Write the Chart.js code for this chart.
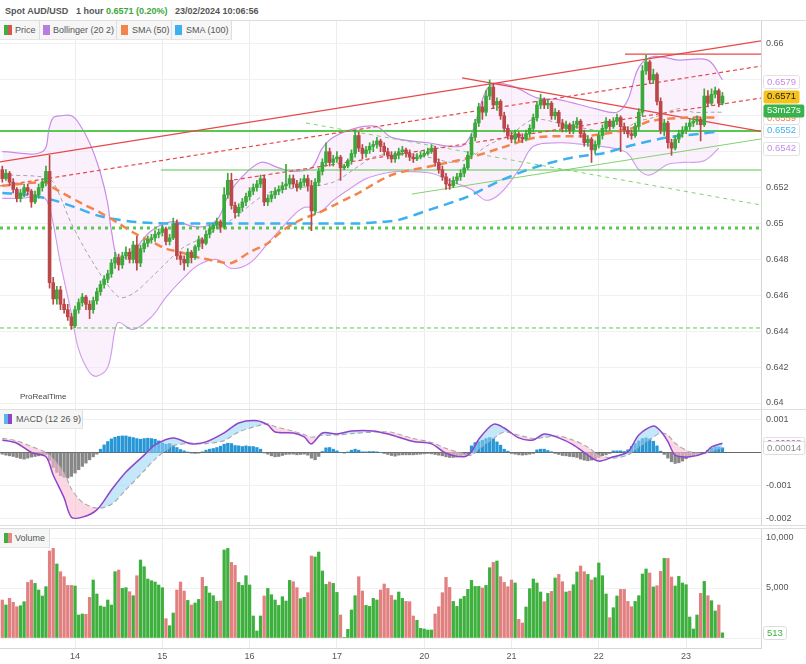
<!DOCTYPE html>
<html>
<head>
<meta charset="utf-8">
<title>Spot AUD/USD 1 hour</title>
<script src="https://cdn.jsdelivr.net/npm/chart.js@4.4.1/dist/chart.umd.min.js"></script>
<style>
  body { margin: 0; background: #fff; font-family: "Liberation Sans", Arial, sans-serif; }
  #page { position: relative; width: 806px; height: 664px; overflow: hidden; }
  .panel { position: absolute; left: 0; width: 806px; }
  .hd { position: absolute; top: 6px; font-size: 9px; font-weight: bold; color: #555; white-space: nowrap; }
  .lg { position: absolute; height: 19px; background: #f6f6f6; border-right: 1px solid #dedede; border-bottom: 1px solid #e6e6e6;
        box-sizing: border-box; font-size: 9px; color: #555; line-height: 19px; z-index: 5; white-space: nowrap; }
  .ic { position: absolute; top: 4px; width: 4px; height: 10px; }
  .sep { position: absolute; left: 0; width: 806px; height: 1px; background: #dedede; z-index: 4; }
</style>
</head>
<body>
<div id="page">
  <div class="hd" style="left:5px">Spot AUD/USD</div>
  <div class="hd" style="left:76px">1 hour</div>
  <div class="hd" style="left:106px;color:#3aa83a">0.6571 (0.20%)</div>
  <div class="hd" style="left:175px">23/02/2024 10:06:56</div>
  <div class="sep" style="top:20px"></div>

  <div class="lg" style="left:0;top:21px;width:40px;padding-left:15px"><span class="ic" style="left:4px;background:#3fae3f"></span><span class="ic" style="left:8px;background:#d9534f"></span>Price</div>
  <div class="lg" style="left:40px;top:21px;width:77px;padding-left:13px"><span class="ic" style="left:3px;width:7px;background:#b77ee0"></span>Bollinger (20 2)</div>
  <div class="lg" style="left:117px;top:21px;width:55px;padding-left:15px"><span class="ic" style="left:4px;width:7px;background:#f5844a"></span>SMA (50)</div>
  <div class="lg" style="left:172px;top:21px;width:60px;padding-left:14px"><span class="ic" style="left:3px;width:7px;background:#3db0ef"></span>SMA (100)</div>

  <div class="panel" style="top:21px;height:388px"><canvas id="priceChart"></canvas></div>
  <div class="hd" style="left:20px;top:392px;font-weight:normal;font-size:8px;color:#444;z-index:5">ProRealTime</div>
  <div class="sep" style="top:409px"></div>

  <div class="lg" style="left:0;top:410px;width:83px;padding-left:16px"><span class="ic" style="left:4px;background:#56b7e8"></span><span class="ic" style="left:8px;background:#8e44c9"></span>MACD (12 26 9)</div>
  <div class="panel" style="top:410px;height:115px"><canvas id="macdChart"></canvas></div>
  <div class="sep" style="top:525px"></div>

  <div class="lg" style="left:0;top:529px;width:50px;padding-left:15px"><span class="ic" style="left:4px;background:#3fae3f"></span><span class="ic" style="left:8px;background:#e58a8a"></span>Volume</div>
  <div class="sep" style="top:528px"></div>
  <div class="panel" style="top:528px;height:136px"><canvas id="volumeChart"></canvas></div>
</div>

<script>
// ---- data (prices in 1/10000, MACD in 1/100000) ----
const PIP = 10000;
const MACD_UNIT = 100000;

const dayTicks = [20, 44, 68, 92, 116, 140, 164, 188];
const dayLabels = ['14', '15', '16', '17', '20', '21', '22', '23'];

const openP = [
  6530,6525,6528,6523,6519,6514,6517,6520,6518,6512,
  6516,6520,6523,6529,6467,6458,6463,6455,6452,6448,
  6443,6452,6456,6459,6455,6452,6457,6462,6466,6469,
  6472,6478,6481,6477,6482,6484,6480,6488,6478,6486,
  6489,6491,6492,6494,6495,6497,6490,6492,6500,6482,
  6480,6478,6484,6481,6487,6491,6489,6494,6497,6499,
  6501,6498,6516,6524,6510,6506,6509,6512,6515,6518,
  6520,6522,6525,6512,6514,6516,6518,6519,6521,6522,
  6525,6522,6520,6523,6525,6521,6507,6523,6529,6534,
  6540,6534,6536,6537,6531,6532,6535,6539,6549,6542,
  6539,6541,6543,6544,6546,6543,6540,6538,6536,6538,
  6540,6541,6539,6537,6536,6537,6538,6539,6540,6542,
  6534,6530,6526,6522,6521,6524,6526,6528,6531,6538,
  6548,6556,6565,6562,6571,6576,6566,6568,6560,6553,
  6549,6547,6550,6548,6547,6550,6553,6559,6566,6569,
  6566,6567,6560,6562,6556,6553,6555,6552,6555,6557,
  6550,6545,6547,6541,6544,6549,6553,6557,6554,6557,
  6559,6554,6552,6550,6549,6554,6562,6585,6590,6580,
  6583,6568,6552,6556,6545,6542,6547,6550,6552,6554,
  6556,6557,6558,6555,6571,6567,6572,6574,6567
];
const highP = [
  6532,6530,6529,6525,6520,6519,6522,6522,6519,6518,
  6522,6525,6532,6538,6470,6465,6465,6458,6455,6450,
  6454,6458,6461,6460,6457,6459,6464,6468,6471,6474,
  6480,6484,6483,6484,6487,6486,6490,6493,6488,6491,
  6493,6494,6496,6497,6499,6498,6494,6503,6502,6484,
  6482,6486,6485,6488,6493,6492,6496,6499,6500,6503,
  6502,6520,6528,6528,6512,6511,6514,6517,6520,6522,
  6524,6527,6527,6516,6518,6520,6521,6523,6533,6527,
  6527,6524,6525,6527,6527,6524,6525,6531,6536,6545,
  6542,6538,6540,6538,6533,6536,6541,6552,6551,6544,
  6543,6545,6546,6548,6547,6545,6542,6540,6540,6542,
  6543,6542,6541,6539,6539,6540,6541,6542,6544,6543,
  6536,6532,6528,6525,6526,6528,6530,6533,6540,6550,
  6558,6567,6568,6574,6580,6578,6570,6569,6562,6555,
  6551,6552,6551,6550,6552,6555,6561,6568,6572,6570,
  6569,6568,6564,6563,6558,6557,6556,6557,6559,6558,
  6552,6549,6548,6546,6551,6555,6559,6558,6559,6561,
  6560,6556,6554,6552,6556,6564,6588,6594,6591,6586,
  6584,6570,6558,6557,6547,6549,6552,6554,6556,6558,
  6559,6560,6559,6575,6574,6575,6576,6575,6573
];
const lowP = [
  6523,6524,6521,6517,6512,6512,6515,6516,6509,6511,
  6514,6518,6521,6464,6455,6455,6452,6450,6446,6441,
  6442,6450,6454,6452,6447,6450,6455,6460,6464,6467,
  6470,6475,6474,6475,6480,6478,6478,6474,6476,6484,
  6487,6489,6490,6492,6493,6488,6488,6491,6480,6477,
  6474,6476,6478,6480,6485,6486,6488,6492,6495,6497,
  6495,6497,6514,6508,6503,6504,6507,6510,6513,6516,
  6518,6520,6510,6510,6512,6514,6516,6517,6519,6520,
  6520,6518,6519,6521,6518,6496,6505,6521,6527,6532,
  6532,6532,6534,6524,6530,6531,6533,6537,6540,6536,
  6537,6539,6540,6542,6540,6538,6536,6534,6534,6536,
  6538,6537,6535,6534,6535,6536,6537,6538,6539,6532,
  6528,6524,6519,6519,6520,6522,6524,6526,6530,6536,
  6546,6554,6558,6560,6569,6564,6563,6558,6551,6547,
  6545,6545,6546,6545,6546,6548,6551,6557,6564,6564,
  6564,6558,6558,6554,6551,6551,6550,6550,6553,6548,
  6543,6543,6534,6539,6542,6547,6551,6552,6553,6555,
  6540,6550,6548,6547,6548,6552,6560,6583,6578,6578,
  6566,6550,6549,6542,6538,6541,6545,6548,6550,6552,
  6554,6555,6546,6554,6565,6566,6570,6565,6566
];
const closeP = [
  6525,6528,6523,6519,6514,6517,6520,6518,6512,6516,
  6520,6523,6529,6467,6458,6463,6455,6452,6448,6443,
  6452,6456,6459,6455,6452,6457,6462,6466,6469,6472,
  6478,6481,6477,6482,6484,6480,6488,6478,6486,6489,
  6491,6492,6494,6495,6497,6490,6492,6500,6482,6480,
  6478,6484,6481,6487,6491,6489,6494,6497,6499,6501,
  6498,6516,6524,6510,6506,6509,6512,6515,6518,6520,
  6522,6525,6512,6514,6516,6518,6519,6521,6522,6525,
  6522,6520,6523,6525,6521,6507,6523,6529,6534,6540,
  6534,6536,6537,6531,6532,6535,6539,6549,6542,6539,
  6541,6543,6544,6546,6543,6540,6538,6536,6538,6540,
  6541,6539,6537,6536,6537,6538,6539,6540,6542,6534,
  6530,6526,6522,6521,6524,6526,6528,6531,6538,6548,
  6556,6565,6562,6571,6576,6566,6568,6560,6553,6549,
  6547,6550,6548,6547,6550,6553,6559,6566,6569,6566,
  6567,6560,6562,6556,6553,6555,6552,6555,6557,6550,
  6545,6547,6541,6544,6549,6553,6557,6554,6557,6559,
  6554,6552,6550,6549,6554,6562,6585,6590,6580,6583,
  6568,6552,6556,6545,6542,6547,6550,6552,6554,6556,
  6557,6558,6555,6571,6567,6572,6574,6567,6571
];

const volume = [
  3800,3300,3970,3570,3130,3230,3630,5560,5800,5460,
  4800,4200,5130,8700,8960,7400,6630,6130,5260,5260,
  5200,2300,2400,2370,4060,5800,4400,3200,3100,3800,
  3300,6630,6800,4960,5030,4630,4230,6230,7800,7130,
  5900,5730,5600,5300,5030,1930,1230,2500,4800,5600,
  4700,3760,3300,3500,3860,6060,5160,4500,4230,3660,
  3700,8800,8960,7560,7260,5560,5260,6230,5300,2200,
  700,2200,4200,4960,4330,3800,3260,4130,3700,5760,
  5630,5030,3930,4060,4530,8200,8100,8600,6700,5360,
  5600,5460,4560,2300,60,870,2800,4230,6130,4700,
  3260,3160,3960,3800,4800,5400,4960,4260,3800,4600,
  3960,3660,3630,2200,1770,970,900,800,800,2400,
  3130,4530,6060,5060,3660,3160,3900,4160,4860,5760,
  5160,5160,5000,5260,7030,7560,7700,6130,5560,5130,
  5800,5500,1870,1500,3100,4930,5900,5500,4600,3630,
  4460,4660,6000,6360,5630,4600,4700,5330,6600,7200,
  6630,6360,5800,6030,7500,6230,4400,2030,3030,4200,
  4860,4860,3660,3130,3660,4230,6400,6900,6500,5100,
  5230,6660,7960,7960,6100,5200,6160,5500,5330,2100,
  900,2300,4460,5660,4230,3730,2700,3300,513
];

const macdHist = [
  -5,-8,-10,-12,-15,-18,-20,-17,-14,-12,
  -10,-8,-6,-25,-45,-60,-70,-75,-77,-72,
  -62,-52,-42,-32,-22,-13,-5,10,23,33,
  41,46,49,50,50,47,45,42,40,42,
  43,42,40,35,29,25,27,22,15,9,
  5,1,-2,-3,-2,2,7,10,12,15,
  19,25,28,27,21,20,18,20,18,18,
  15,10,-1,-5,-10,-13,-12,-9,-6,-5,
  -5,-7,-6,-5,-8,-17,-22,-12,3,14,
  15,10,5,0,-2,1,7,10,7,2,
  2,3,3,2,0,-3,-6,-9,-11,-8,
  -7,-7,-7,-7,-6,-5,-4,-3,-4,-6,
  -8,-10,-13,-15,-15,-14,-12,-8,-4,20,
  30,33,37,42,45,42,32,22,10,4,
  -3,-5,-7,-8,-7,-5,-3,8,10,10,
  6,2,-3,-6,-9,-10,-12,-13,-15,-20,
  -23,-25,-23,-19,-15,-10,-7,-3,5,5,
  5,3,8,18,27,35,42,44,41,34,
  20,4,-6,-17,-28,-33,-31,-26,-19,-13,
  -10,-7,-5,-2,6,13,17,17,14
];
const macdLine = [[0,38],[4,28],[8,0],[12,-13],[14,-68],[17,-137],[19,-195],[22,-195],[26,-173],[30,-113],
  [34,-59],[39,-8],[42,23],[47,44],[52,26],[56,32],[61,59],[65,89],[70,96],[73,83],[75,62],[80,59],
  [83,47],[85,26],[88,59],[92,56],[96,65],[102,65],[107,53],[109,46],[113,33],[118,26],[122,-2],
  [127,-13],[129,2],[131,40],[135,85],[138,74],[142,44],[146,38],[149,56],[153,44],[157,23],[161,-8],
  [164,-26],[168,-13],[172,2],[175,53],[179,80],[181,65],[183,33],[185,-8],[189,-13],[193,-2],[195,17],[198,28]];
const macdSignal = [[0,43],[4,35],[8,18],[12,0],[14,-18],[17,-62],[19,-110],[22,-150],[26,-168],[30,-156],
  [34,-112],[39,-55],[42,-20],[47,20],[52,28],[56,27],[61,36],[65,62],[70,80],[73,86],[75,78],[80,64],
  [83,54],[85,46],[88,52],[92,53],[96,57],[102,62],[107,61],[109,55],[113,42],[118,30],[122,12],
  [127,-4],[129,-8],[131,10],[135,42],[138,62],[142,52],[146,42],[149,46],[153,49],[157,37],[161,16],
  [164,-8],[168,-17],[172,-7],[175,17],[179,46],[181,59],[183,52],[185,28],[189,2],[193,-2],[195,4],[198,14]];

// Bollinger (20 2) and moving averages
const bbUpper = [[0,6540],[11,6540],[13,6554],[14,6559],[16,6560],[19,6560],[21,6556],[24,6545],[27,6528],
  [29,6511],[30,6496],[32,6480],[36,6485],[41,6496],[47,6501],[54,6498],[59,6502],[62,6515],[65,6524],
  [71,6534],[76,6531],[80,6529],[85,6531],[88,6542],[91,6548],[97,6553],[103,6554],[107,6548],[117,6545],
  [126,6543],[129,6550],[133,6574],[136,6578],[141,6576],[147,6570],[153,6569],[163,6564],[169,6562],
  [172,6569],[175,6587],[179,6593],[186,6591],[194,6591],[198,6580]];
const bbMiddle = [[0,6527],[11,6526],[14,6523],[19,6500],[25,6478],[32,6459],[36,6461],[41,6470],[46,6480],
  [50,6487],[54,6491],[63,6502],[73,6517],[82,6520],[91,6523],[98,6532],[102,6537],[109,6539],[117,6537],
  [124,6534],[129,6537],[133,6543],[140,6550],[146,6558],[153,6556],[163,6552],[170,6552],[175,6557],
  [179,6559],[186,6564],[190,6562],[195,6562],[198,6562]];
const bbLower = [[0,6514],[5,6514],[11,6515],[13,6509],[16,6478],[19,6450],[21,6430],[24,6417],[26,6415],
  [29,6420],[31,6441],[32,6445],[36,6441],[41,6448],[45,6459],[50,6470],[54,6477],[59,6480],[63,6475],
  [68,6478],[73,6489],[77,6498],[82,6508],[85,6509],[87,6506],[91,6513],[96,6520],[100,6525],[105,6528],
  [109,6529],[118,6528],[124,6523],[129,6519],[133,6513],[137,6517],[142,6530],[146,6543],[153,6545],
  [160,6544],[168,6542],[172,6539],[175,6530],[178,6527],[183,6533],[187,6534],[193,6535],[197,6542]];
const sma50 = [[0,6521],[12,6523],[14,6520],[22,6511],[27,6506],[32,6500],[36,6495],[41,6490],[45,6486],
  [49,6484],[54,6481],[59,6479],[63,6478],[68,6484],[73,6489],[77,6496],[82,6502],[87,6506],[91,6510],
  [96,6515],[98,6517],[107,6527],[118,6532],[129,6537],[137,6542],[147,6548],[162,6549],[173,6553],
  [178,6557],[188,6559],[197,6559]];
const sma100 = [[0,6517],[7,6516],[14,6513],[20,6509],[27,6504],[36,6501],[45,6500],[54,6500],[73,6500],
  [91,6500],[98,6500],[105,6501],[109,6502],[118,6508],[128,6515],[137,6524],[146,6531],[155,6536],
  [161,6538],[165,6539],[174,6544],[183,6548],[192,6550],[196,6551]];

// drawn trend lines: [bar index, price] end points
const redChannelTop = [[-0.63,6534.3],[208.6,6601.7]];
const redDashUpper = [[-0.63,6520.9],[208.6,6587.7]];
const redDashLower = [[61.8,6523.7],[208.6,6569.9]];
const redFalling = [[126.4,6581.1],[208.6,6551.3]];
const redHigh = [[171.2,6594.4],[208.6,6594.4]];
const greenMain = [[-0.63,6551.5],[208.6,6551.5]];
const greenShelf = [[43.6,6529.8],[208.6,6529.8]];
const greenDotted = [[-0.63,6497.5],[208.6,6497.5]];
const greenLow = [[-0.63,6441.8],[208.6,6441.8]];
const greenRising = [[112.6,6516.4],[208.6,6547.1]];
const greenFalling = [[83.5,6556],[208.6,6510.3]];

const priceTags = [0.6579, 0.6571, 0.6559, 0.6552, 0.6542];
const countdown = '53m27s';
const macdTags = [0.00028, 0.00014];
const lastVolume = 513;

// ---- drawing ----
const FONT = '"Liberation Sans", Arial, sans-serif';
Chart.defaults.font.family = FONT;
Chart.defaults.font.size = 9;
Chart.defaults.color = '#555';

const GREEN = 'rgb(58,168,58)';
const RED = 'rgb(186,72,72)';
const X_MIN = -0.63, X_MAX = 208.6;

const pts = (arr, k) => arr.map(([x, v]) => ({ x: x, y: v / k }));
const isUp = closeP.map((c, i) => c >= openP[i]);

function baseOptions(yMin, yMax, yTicks, yFmt, yGrid, showX) {
  return {
    responsive: true,
    maintainAspectRatio: false,
    animation: false,
    layout: { padding: 0 },
    plugins: { legend: { display: false }, tooltip: { enabled: false } },
    scales: {
      x: {
        type: 'linear', min: X_MIN, max: X_MAX, offset: false,
        afterBuildTicks: s => { s.ticks = dayTicks.map(v => ({ value: v })); },
        afterFit: s => { s.height = showX ? 16 : 0; s.paddingLeft = 0; s.paddingRight = 0; },
        ticks: { display: showX, autoSkip: false, maxRotation: 0, padding: 3,
                 callback: v => dayLabels[dayTicks.indexOf(v)] },
        grid: { color: '#ececec', drawTicks: false, offset: false },
        border: { display: showX, color: '#d6d6d6' }
      },
      y: {
        position: 'right', min: yMin, max: yMax,
        afterFit: s => { s.width = 45; s.paddingTop = 0; s.paddingBottom = 0; },
        afterBuildTicks: s => { s.ticks = yTicks.map(v => ({ value: v })); },
        ticks: { padding: 5, callback: yFmt },
        grid: { color: yGrid, drawTicks: false },
        border: { color: '#d6d6d6' }
      }
    }
  };
}

function drawTag(ctx, t) {
  ctx.save();
  ctx.font = '9.5px ' + FONT;
  const w = ctx.measureText(t.text).width + 7, h = 13;
  const top = Math.round(t.y - h / 2) + 0.5;
  ctx.beginPath();
  ctx.roundRect(763.5, top, w, h, 2);
  ctx.fillStyle = t.bg;
  ctx.fill();
  if (t.line) { ctx.strokeStyle = t.line; ctx.lineWidth = 1; ctx.stroke(); }
  ctx.fillStyle = t.fg;
  ctx.textBaseline = 'middle';
  ctx.fillText(t.text, 767, t.y + 0.5);
  ctx.restore();
}

function tagPlugin(makeTags) {
  return { id: 'tags', afterDraw(chart) { makeTags(chart.scales.y).forEach(t => drawTag(chart.ctx, t)); } };
}

// price panel
const line = (data, color, width, dash, order, extra) => Object.assign({
  type: 'line', data: data, borderColor: color, borderWidth: width, borderDash: dash || [],
  pointRadius: 0, fill: false, order: order, tension: 0
}, extra || {});

const priceDatasets = [
  { type: 'bar', data: closeP.map((c, i) => ({ x: i, y: [openP[i] / PIP, c / PIP] })),
    backgroundColor: isUp.map(u => u ? GREEN : RED), barThickness: 3, minBarLength: 1, grouped: false, order: 0 },
  { type: 'bar', data: closeP.map((c, i) => ({ x: i, y: [lowP[i] / PIP, highP[i] / PIP] })),
    backgroundColor: isUp.map(u => u ? GREEN : RED), barThickness: 1, grouped: false, order: 1 },
  line(pts(sma50, PIP), 'rgb(245,132,74)', 2.5, [8, 5], 2, { tension: 0.3 }),
  line(pts(sma100, PIP), 'rgb(61,176,239)', 2.5, [10, 6], 3, { tension: 0.3 }),
  line(pts(redChannelTop, PIP), 'rgb(232,72,72)', 1.3, null, 4),
  line(pts(redDashUpper, PIP), 'rgb(232,72,72)', 1.2, [4, 3], 4),
  line(pts(redDashLower, PIP), 'rgb(232,72,72)', 1.2, [4, 3], 4),
  line(pts(redFalling, PIP), 'rgb(232,72,72)', 1.3, null, 4),
  line(pts(redHigh, PIP), 'rgb(232,72,72)', 1.3, null, 4),
  line(pts(greenMain, PIP), 'rgb(88,200,78)', 2, null, 4),
  line(pts(greenShelf, PIP), 'rgb(88,200,78)', 1.2, null, 4),
  line(pts(greenDotted, PIP), 'rgb(88,200,78)', 3, [3, 4], 4),
  line(pts(greenLow, PIP), 'rgb(88,200,78)', 1, [4, 3], 4),
  line(pts(greenRising, PIP), 'rgb(130,210,110)', 1, null, 4),
  line(pts(greenFalling, PIP), 'rgb(130,210,110)', 1, [4, 4], 4),
  line(pts(bbMiddle, PIP), 'rgb(165,165,165)', 1, [4, 3], 5, { tension: 0.3 }),
  line(pts(bbUpper, PIP), 'rgb(200,140,232)', 1.2, null, 6,
       { tension: 0.35, fill: 17, backgroundColor: 'rgba(244,224,248,0.45)' }),
  line(pts(bbLower, PIP), 'rgb(200,140,232)', 1.2, null, 6, { tension: 0.35 })
];

const priceTicks = [0.64, 0.642, 0.644, 0.646, 0.648, 0.65, 0.652, 0.654, 0.656, 0.658, 0.66];
const hiddenPriceTicks = [0.654, 0.656, 0.658];
new Chart(document.getElementById('priceChart'), {
  type: 'bar',
  data: { datasets: priceDatasets },
  options: baseOptions(0.639666, 0.661281, priceTicks,
    v => hiddenPriceTicks.some(h => Math.abs(h - v) < 1e-6) ? '' : String(+v.toFixed(3)),
    '#f1f1f1', false),
  plugins: [tagPlugin(y => [
    { y: y.getPixelForValue(priceTags[2]), text: priceTags[2].toFixed(4), fg: 'rgb(245,132,74)', bg: '#fff', line: '#e2e2e2' },
    { y: y.getPixelForValue(priceTags[3]), text: priceTags[3].toFixed(4), fg: 'rgb(61,176,239)', bg: '#fff', line: '#e2e2e2' },
    { y: y.getPixelForValue(priceTags[4]), text: priceTags[4].toFixed(4), fg: 'rgb(196,140,232)', bg: '#fff', line: '#e2e2e2' },
    { y: y.getPixelForValue(priceTags[0]), text: priceTags[0].toFixed(4), fg: 'rgb(196,140,232)', bg: '#fff', line: '#e2e2e2' },
    { y: y.getPixelForValue(priceTags[1]), text: priceTags[1].toFixed(4), fg: '#222', bg: '#f6c31c' },
    { y: y.getPixelForValue(priceTags[1]) + 14, text: countdown, fg: '#fff', bg: '#37b24d' }
  ])]
});

// MACD panel
new Chart(document.getElementById('macdChart'), {
  type: 'bar',
  data: {
    datasets: [
      { type: 'bar', data: macdHist.map((v, i) => ({ x: i, y: v / MACD_UNIT })),
        backgroundColor: macdHist.map(v => v >= 0 ? 'rgb(38,150,214)' : 'rgb(135,135,135)'),
        barThickness: 2.6, grouped: false, order: 2 },
      line(pts(macdLine, MACD_UNIT), 'rgb(142,68,201)', 1.5, null, 0,
           { tension: 0.3, fill: { target: 2, above: 'rgba(150,212,245,0.55)', below: 'rgba(250,190,212,0.6)' } }),
      line(pts(macdSignal, MACD_UNIT), 'rgb(160,160,160)', 1.2, [5, 3], 1, { tension: 0.3 })
    ]
  },
  options: baseOptions(-0.002187, 0.001282, [0.001, 0, -0.001, -0.002],
    v => v === 0 ? '' : String(+v.toFixed(3)), c => c.tick && c.tick.value === 0 ? '#666' : '#f1f1f1', false),
  plugins: [tagPlugin(y => [
    { y: y.getPixelForValue(macdTags[0]), text: macdTags[0].toFixed(5), fg: 'rgb(150,90,210)', bg: '#fff', line: '#e2e2e2' },
    { y: y.getPixelForValue(macdTags[1]), text: macdTags[1].toFixed(5), fg: '#888', bg: '#fff', line: '#dcdcdc' }
  ])]
});

// Volume panel
new Chart(document.getElementById('volumeChart'), {
  type: 'bar',
  data: {
    datasets: [{
      type: 'bar', data: volume.map((v, i) => ({ x: i, y: v })),
      backgroundColor: isUp.map(u => u ? 'rgb(62,176,62)' : 'rgb(226,128,128)'),
      barThickness: 2.6, grouped: false
    }]
  },
  options: baseOptions(-1000, 11000, [0, 5000, 10000],
    v => v === 0 ? '' : v.toLocaleString('en-US'), '#f1f1f1', true),
  plugins: [tagPlugin(y => [
    { y: y.getPixelForValue(lastVolume), text: String(lastVolume), fg: 'rgb(62,176,62)', bg: '#fff', line: '#dcdcdc' }
  ])]
});
</script>
</body>
</html>
